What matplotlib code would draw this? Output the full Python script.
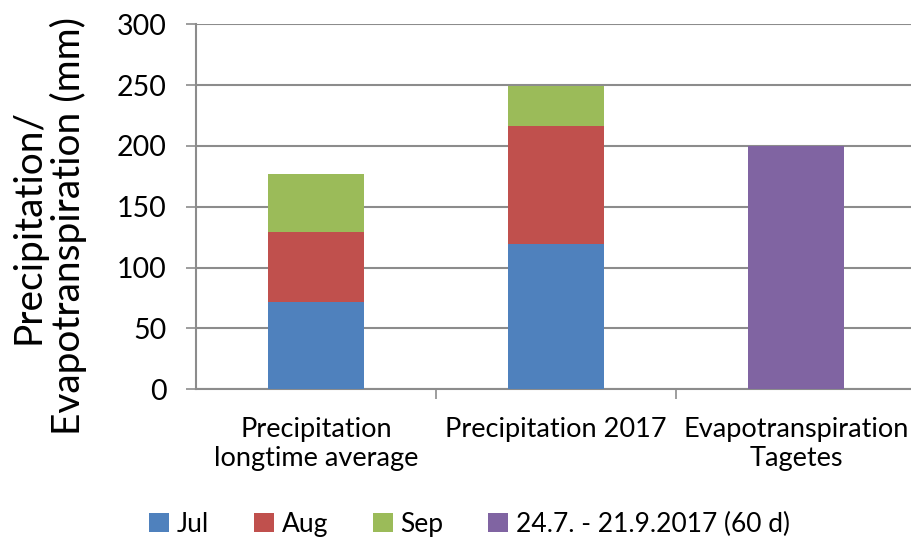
import matplotlib.pyplot as plt
import numpy as np

plt.rcParams['font.family'] = ['Lato', 'DejaVu Sans']

# data
categories = ['Precipitation\nlongtime average', 'Precipitation 2017', 'Evapotranspiration\nTagetes']
jul = [72, 119.5, 0]
aug = [57, 96.5, 0]
sep = [48, 33, 0]
evap = [0, 0, 200]
labels = ['Jul', 'Aug', 'Sep', '24.7. - 21.9.2017 (60 d)']
colors = ['#4f81bd', '#c0504d', '#9bbb59', '#8064a2']

fig = plt.figure(figsize=(9.12, 5.39), dpi=100)
ax = fig.add_axes([0.215, 0.278, 0.785, 0.677])

x = np.arange(len(categories))
w = 0.4
ax.bar(x, jul, w, color=colors[0], label=labels[0], zorder=3)
ax.bar(x, aug, w, bottom=jul, color=colors[1], label=labels[1], zorder=3)
ax.bar(x, sep, w, bottom=np.add(jul, aug), color=colors[2], label=labels[2], zorder=3)
ax.bar(x, evap, w, color=colors[3], label=labels[3], zorder=3)

ax.set_ylim(0, 300)
ax.set_xlim(-0.5, 2.5 - 4 / 240)
ax.set_yticks(range(0, 301, 50))
ax.yaxis.grid(True, color='#8c8c8c', linewidth=1.5, zorder=0)

ax.set_xticks([0.5, 1.5])
ax.set_xticklabels([])
ax.tick_params(axis='x', length=7, width=1.2, color='#8c8c8c')
ax.tick_params(axis='y', length=7, width=1.2, color='#8c8c8c', labelsize=20.5, pad=14)
for i, c in enumerate(categories):
    ax.text(i, -23, c, ha='center', va='top', fontsize=19.5, linespacing=1.2)

for s in ['top', 'right']:
    ax.spines[s].set_visible(False)
for s in ['left', 'bottom']:
    ax.spines[s].set_color('#8c8c8c')
    ax.spines[s].set_linewidth(1.5)

ax.set_ylabel('Precipitation/\nEvapotranspiration (mm)', fontsize=28, linespacing=1.13)
ax.yaxis.set_label_coords(-0.152, 0.446)

fig.legend(loc='lower center', bbox_to_anchor=(0.515, -0.04), ncol=4, frameon=False,
           fontsize=19, handlelength=0.75, handleheight=0.75, handletextpad=0.3, columnspacing=1.7)

fig.savefig('out.png', dpi=100)
